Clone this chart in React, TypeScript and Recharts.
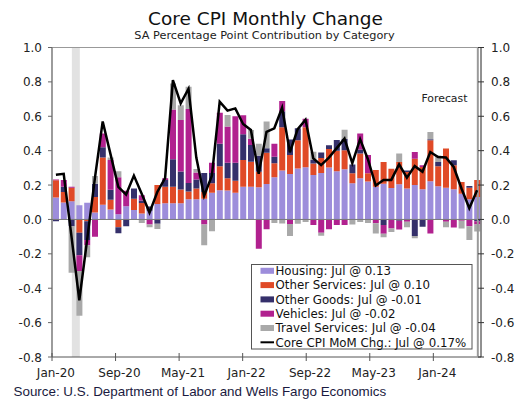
import React from "react";
import {
  ComposedChart,
  Bar,
  Line,
  XAxis,
  YAxis,
  ReferenceLine,
  ReferenceArea,
} from "recharts";

const months = [
  "Jan-20", "Feb-20", "Mar-20", "Apr-20", "May-20", "Jun-20", "Jul-20", "Aug-20", "Sep-20", "Oct-20", "Nov-20", "Dec-20",
  "Jan-21", "Feb-21", "Mar-21", "Apr-21", "May-21", "Jun-21", "Jul-21", "Aug-21", "Sep-21", "Oct-21", "Nov-21", "Dec-21",
  "Jan-22", "Feb-22", "Mar-22", "Apr-22", "May-22", "Jun-22", "Jul-22", "Aug-22", "Sep-22", "Oct-22", "Nov-22", "Dec-22",
  "Jan-23", "Feb-23", "Mar-23", "Apr-23", "May-23", "Jun-23", "Jul-23", "Aug-23", "Sep-23", "Oct-23", "Nov-23", "Dec-23",
  "Jan-24", "Feb-24", "Mar-24", "Apr-24", "May-24", "Jun-24", "Jul-24",
];

const housing = [
  0.128, 0.098, 0.106, 0.082, 0.097, 0.04, 0.085, 0.058, 0.03, 0.077, 0.055, 0.035,
  0.05, 0.09, 0.094, 0.094, 0.094, 0.117, 0.117, 0.12, 0.155, 0.17, 0.168, 0.155,
  0.19, 0.19, 0.187, 0.206, 0.245, 0.284, 0.265, 0.297, 0.303, 0.258, 0.27, 0.302,
  0.28, 0.292, 0.21, 0.24, 0.22, 0.19, 0.208, 0.183, 0.205, 0.18, 0.2, 0.176,
  0.222, 0.193, 0.185, 0.176, 0.15, 0.117, 0.13,
];
const otherServices = [
  0.1, 0.062, 0.078, -0.078, -0.01, 0.09, 0.275, 0.057, -0.045, 0.0, 0.065, 0.06,
  0.0, 0.11, 0.096, 0.096, 0.08, 0.045, 0.063, 0.04, 0.055, 0.14, 0.072, 0.07,
  0.156, 0.146, 0.091, 0.182, 0.082, 0.252, 0.11, 0.163, 0.233, 0.068, 0.088, 0.107,
  0.12, 0.111, 0.058, 0.143, 0.048, 0.098, 0.126, 0.112, 0.129, 0.096, 0.153, 0.129,
  0.238, 0.116, 0.227, 0.139, 0.068, 0.068, 0.1,
];
const otherGoods = [
  -0.01, 0.03, -0.04, -0.13, -0.11, 0.078, 0.06, 0.058, -0.035, -0.04, 0.06, 0.015,
  0.025, -0.025, 0.04, 0.16, 0.105, 0.05, 0.053, 0.11, 0.06, 0.13, 0.09, 0.105,
  0.15, 0.097, 0.092, 0.026, 0.038, 0.093, 0.09, 0.07, 0.0, 0.02, 0.032, 0.023,
  0.062, 0.065, 0.052, 0.024, 0.0, 0.0, -0.033, 0.0, -0.008, 0.009, -0.097, -0.043,
  0.006, 0.025, 0.0, 0.029, 0.0, 0.01, -0.01,
];
const vehicles = [
  0.005, 0.04, 0.006, -0.092, -0.03, -0.1, 0.08, 0.172, 0.215, 0.09, 0.0, 0.03,
  -0.03, 0.0, 0.01, 0.29, 0.3, 0.43, 0.04, -0.03, 0.06, 0.18, 0.21, 0.27,
  0.11, 0.037, -0.17, -0.057, 0.075, 0.06, -0.027, 0.0, 0.049, -0.033, -0.077, -0.057,
  -0.033, -0.033, 0.0, 0.093, 0.107, -0.022, -0.05, -0.053, -0.05, -0.013, 0.039, 0.01,
  -0.082, 0.0, -0.013, -0.047, -0.008, -0.04, -0.02,
];
const travel = [
  0.0, 0.0, -0.27, -0.26, -0.07, 0.045, 0.0, 0.015, 0.035, 0.0, 0.0, -0.02,
  -0.015, -0.03, 0.0, 0.15, 0.085, 0.13, 0.02, -0.12, -0.068, 0.0, 0.067, 0.0,
  0.0, 0.05, 0.07, 0.156, -0.02, -0.024, -0.07, -0.025, -0.015, 0.048, -0.018, 0.0,
  0.0, 0.053, -0.03, -0.015, -0.02, -0.06, -0.02, -0.02, 0.049, -0.033, -0.012, 0.0,
  0.042, 0.038, -0.033, 0.0, -0.045, -0.08, -0.04,
];
const coreCpi = [
  0.26, 0.265, -0.1, -0.47, -0.12, 0.24, 0.57, 0.38, 0.19, 0.145, 0.255, 0.15,
  0.04, 0.16, 0.24, 0.81, 0.675, 0.76, 0.36, 0.137, 0.255, 0.685, 0.633, 0.646,
  0.555, 0.52, 0.265, 0.51, 0.53, 0.65, 0.39, 0.525, 0.58, 0.355, 0.316, 0.36,
  0.415, 0.47, 0.327, 0.467, 0.35, 0.197, 0.23, 0.23, 0.32, 0.243, 0.31, 0.277,
  0.392, 0.363, 0.36, 0.305, 0.18, 0.065, 0.17,
];

const yTicks = [-0.8, -0.6, -0.4, -0.2, 0, 0.2, 0.4, 0.6, 0.8, 1.0];
const xTickIdx = [0, 8, 16, 24, 32, 40, 48];

const legendItems = [
  { label: "Housing: Jul @ 0.13", color: "#9d8ddb", line: false },
  { label: "Other Services: Jul @ 0.10", color: "#e04a27", line: false },
  { label: "Other Goods: Jul @ -0.01", color: "#35306b", line: false },
  { label: "Vehicles: Jul @ -0.02", color: "#b1218f", line: false },
  { label: "Travel Services: Jul @ -0.04", color: "#a9a9a9", line: false },
  { label: "Core CPI MoM Chg.: Jul @ 0.17%", color: "#000000", line: true },
];

const data = months.map((m, i) => ({
  month: m,
  housing: housing[i],
  otherServices: otherServices[i],
  otherGoods: otherGoods[i],
  vehicles: vehicles[i],
  travel: travel[i],
  core: coreCpi[i],
}));

const FONT = "DejaVu Sans";
const PLOT_BOTTOM = 357;

const XTick = (props: any) => {
  const { x, payload } = props;
  const y = PLOT_BOTTOM;
  return (
    <g>
      <line x1={x} x2={x} y1={y - 4} y2={y + 4} stroke="#555" />
      <text x={x + 3.9} y={y + 19.5} textAnchor="middle" fontSize={12} fontFamily={FONT} fill="#222">
        {months[payload.value]}
      </text>
    </g>
  );
};

const LeftTick = (props: any) => {
  const { x, y, payload } = props;
  return (
    <g>
      <line x1={x - 4} x2={x} y1={y} y2={y} stroke="#666" />
      <text x={x - 10} y={y + 4.5} textAnchor="end" fontSize={12} fontFamily={FONT} fill="#222">
        {payload.value.toFixed(1)}
      </text>
    </g>
  );
};

const RightTick = (props: any) => {
  const { x, y, payload } = props;
  return (
    <g>
      <line x1={x - 3} x2={x + 3} y1={y} y2={y} stroke="#333" />
      <text x={x + 10} y={y + 4.5} textAnchor="start" fontSize={12} fontFamily={FONT} fill="#222">
        {payload.value.toFixed(1)}
      </text>
    </g>
  );
};

export default function App() {
  return (
    <div style={{ position: "absolute", left: 0, top: 0, width: 529, height: 410, background: "#fff" }}>
      <ComposedChart
        width={529}
        height={410}
        data={data}
        stackOffset="sign"
        margin={{ top: 47.5, right: 0, bottom: 28, left: 0 }}
      >
        <XAxis xAxisId="cat" dataKey="month" hide />
        <XAxis
          xAxisId="num"
          type="number"
          domain={[0, 55]}
          ticks={xTickIdx}
          interval={0}
          allowDataOverflow
          height={25}
          tickSize={0}
          tickMargin={0}
          tick={<XTick />}
          axisLine={false}
        />
        <YAxis
          yAxisId="left"
          domain={[-0.8, 1]}
          ticks={yTicks}
          interval={0}
          width={52}
          tickSize={0}
          tickMargin={0}
          tick={<LeftTick />}
          axisLine={{ stroke: "#666", strokeWidth: 1.3 }}
          allowDataOverflow
        />
        <YAxis
          yAxisId="right"
          orientation="right"
          domain={[-0.8, 1]}
          ticks={yTicks}
          interval={0}
          width={48}
          tickSize={0}
          tickMargin={0}
          tick={<RightTick />}
          axisLine={{ stroke: "#222" }}
          allowDataOverflow
        />
        <ReferenceArea
          xAxisId="num"
          yAxisId="left"
          x1={2.5}
          x2={3.5}
          fill="#e2e2e2"
          fillOpacity={1}
          stroke="none"
        />
        <ReferenceLine xAxisId="num" yAxisId="left" y={1} stroke="#999" />
        <ReferenceLine xAxisId="num" yAxisId="left" y={-0.8} stroke="#555" />
        <Bar xAxisId="cat" yAxisId="left" dataKey="housing" stackId="a" fill="#9d8ddb" barSize={6} isAnimationActive={false} />
        <Bar xAxisId="cat" yAxisId="left" dataKey="otherServices" stackId="a" fill="#e04a27" barSize={6} isAnimationActive={false} />
        <Bar xAxisId="cat" yAxisId="left" dataKey="otherGoods" stackId="a" fill="#35306b" barSize={6} isAnimationActive={false} />
        <Bar xAxisId="cat" yAxisId="left" dataKey="vehicles" stackId="a" fill="#b1218f" barSize={6} isAnimationActive={false} />
        <Bar xAxisId="cat" yAxisId="left" dataKey="travel" stackId="a" fill="#a9a9a9" barSize={6} isAnimationActive={false} />
        <ReferenceLine xAxisId="num" yAxisId="left" y={0} stroke="#777" />
        <ReferenceLine xAxisId="num" yAxisId="left" x={53.6} stroke="#9a9a9a" strokeWidth={2} />
        <Line
          xAxisId="cat"
          yAxisId="left"
          type="linear"
          dataKey="core"
          stroke="#000"
          strokeWidth={2.5}
          dot={false}
          isAnimationActive={false}
        />
      </ComposedChart>
      <svg
        width={529}
        height={410}
        style={{ position: "absolute", left: 0, top: 0, pointerEvents: "none" }}
        fontFamily={FONT}
      >
        <text x={265.5} y={24.5} textAnchor="middle" fontSize={18.5} fill="#111">
          Core CPI Monthly Change
        </text>
        <text x={264.5} y={39} textAnchor="middle" fontSize={11.3} fill="#222">
          SA Percentage Point Contribution by Category
        </text>
        <text x={467.5} y={102.3} textAnchor="end" fontSize={10.9} fill="#222">
          Forecast
        </text>
        <rect x={251.5} y={264.5} width={220.5} height={84.5} fill="#fff" stroke="#555" />
        {legendItems.map((it, k) => {
          const cy = 270.8 + k * 14.3;
          return (
            <g key={it.label}>
              {it.line ? (
                <line x1={260.5} x2={274} y1={cy} y2={cy} stroke={it.color} strokeWidth={2} />
              ) : (
                <rect x={260.5} y={cy - 3} width={13.5} height={6} fill={it.color} />
              )}
              <text x={275.5} y={cy + 4.2} fontSize={11.8} fill="#111">
                {it.label}
              </text>
            </g>
          );
        })}
        <text x={13.5} y={395.5} fontSize={13.4} fontFamily="Liberation Sans" fill="#1a1a40">
          Source: U.S. Department of Labor and Wells Fargo Economics
        </text>
      </svg>
    </div>
  );
}
